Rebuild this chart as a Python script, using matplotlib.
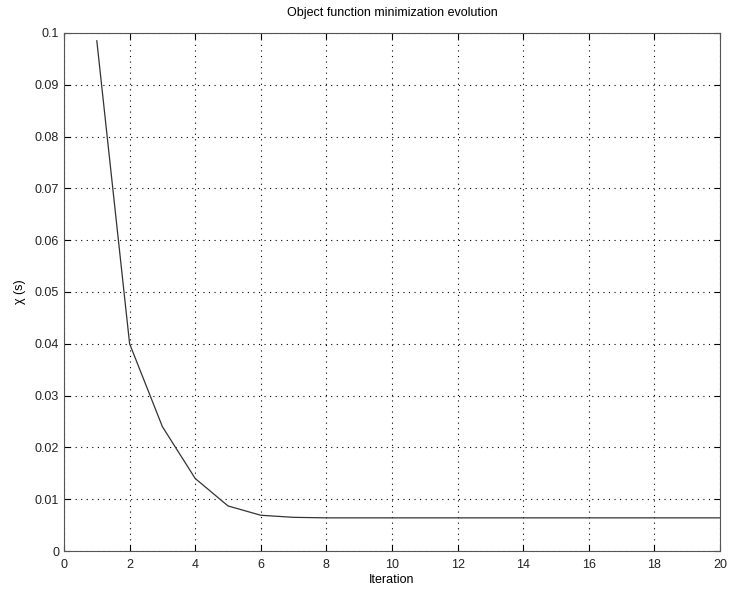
import matplotlib
matplotlib.use('Agg')
import matplotlib.pyplot as plt

plt.rcParams['font.family'] = ['Liberation Sans', 'DejaVu Sans']
plt.rcParams['font.size'] = 9

iterations = list(range(1, 21))
chi = [0.0985, 0.0400, 0.0240, 0.0140, 0.0087, 0.0069, 0.0065, 0.0064, 0.0064, 0.0064,
       0.0064, 0.0064, 0.0064, 0.0064, 0.0064, 0.0064, 0.0064, 0.0064, 0.0064, 0.0064]

fig = plt.figure(figsize=(7.29, 5.89), dpi=100)
ax = fig.add_axes([0.0878, 0.0645, 0.8999, 0.8795])

ax.plot(iterations, chi, color='#333333', linewidth=0.9)

ax.set_xlim(0, 20)
ax.set_ylim(0, 0.1)
ax.set_xticks(range(0, 21, 2))
ax.set_yticks([i / 100 for i in range(11)])
ax.set_yticklabels(['0'] + ['%g' % (i / 100) for i in range(1, 11)])
ax.grid(True, linestyle=(0, (1, 4)), color='black', linewidth=0.8)
ax.tick_params(direction='in', length=4, top=True, right=True, labelsize=9,
               labelcolor='#222222')
ax.tick_params(axis='x', pad=6)
for s in ax.spines.values():
    s.set_color('#555555')

ax.set_title('Object function minimization evolution', fontsize=9, pad=12)
ax.set_xlabel('Iteration', fontsize=9, labelpad=2)
ax.set_ylabel('χ (s)', fontsize=9, labelpad=6)

fig.savefig('out.png', dpi=100)
